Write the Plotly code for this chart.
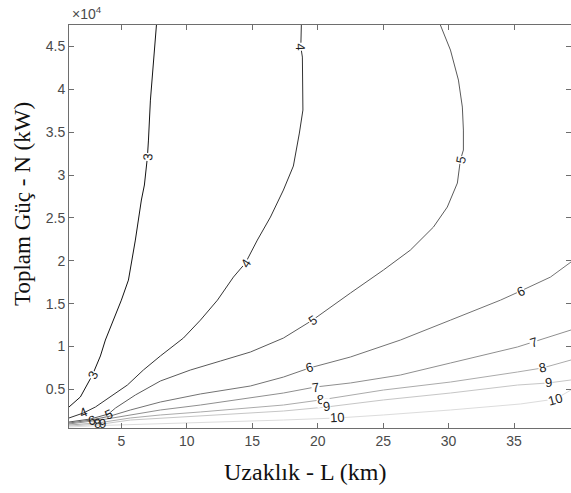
import math
import plotly.graph_objects as go

# ---- contour levels and traced contour lines (L in km, N in kW) ----
levels = [3, 4, 5, 6, 7, 8, 9, 10]

L3_x = [7.68, 7.45, 7.22, 7.07, 6.99, 6.76, 6.53, 6.07, 5.54, 5.00, 4.39, 3.78, 3.40, 2.79, 1.87, 1.0]
L3_y = [47500, 43410, 38740, 34080, 32100, 28840, 27090, 22420, 17750, 15410, 13080, 10760, 8900, 6680, 4120, 2950]

L4_x = [18.75, 18.71, 18.83, 18.89, 18.87, 18.60, 18.14, 17.38, 16.39, 15.39, 14.48, 13.56, 12.34, 11.04,
        9.74, 7.98, 6.68, 5.46, 4.16, 3.02, 2.10, 1.0]
L4_y = [47500, 44930, 43760, 39910, 37580, 34900, 31050, 28250, 25100, 22420, 19740, 18100, 15410, 13080,
        10990, 8900, 7260, 5510, 4120, 2950, 2250, 1670]

L5_x = [29.37, 30.14, 30.75, 31.05, 31.13, 31.13, 30.90, 30.67, 29.90, 28.84, 27.08, 25.02, 22.50, 20.97,
        19.60, 17.38, 14.86, 12.57, 10.27, 7.98, 6.07, 4.55, 4.01, 2.64, 1.0]
L5_y = [47500, 44580, 41080, 37930, 35250, 32920, 31750, 29070, 26270, 23930, 21250, 18920, 16240, 14600,
        13080, 10990, 9360, 8310, 7260, 5980, 4350, 2830, 2130, 1550, 1200]

L6_x = [39.35, 37.78, 35.49, 33.96, 30.14, 26.32, 22.50, 19.37, 17.38, 14.86, 11.04, 7.98, 5.69, 4.16, 2.71, 1.0]
L6_y = [19860, 18100, 16470, 15410, 13080, 10760, 8780, 7500, 6440, 5400, 4470, 3530, 2600, 1900, 1430, 1080]

L7_x = [39.35, 36.48, 35.26, 30.14, 26.32, 22.50, 19.82, 17.38, 14.86, 11.04, 7.98, 5.69, 3.40, 1.0]
L7_y = [11930, 10530, 9950, 8080, 6680, 5750, 5280, 4580, 4000, 3180, 2600, 2020, 1430, 970]

L8_x = [39.35, 37.17, 35.26, 30.14, 25.02, 20.21, 17.38, 14.86, 11.04, 7.98, 5.69, 3.17, 1.0]
L8_y = [8430, 7500, 7030, 5860, 4930, 3770, 3180, 2830, 2370, 2020, 1670, 1080, 850]

L9_x = [39.35, 37.62, 35.26, 30.14, 25.02, 20.67, 17.38, 14.86, 11.04, 7.98, 5.69, 3.55, 1.0]
L9_y = [6100, 5750, 5510, 4580, 3770, 2950, 2480, 2250, 1900, 1670, 1430, 970, 730]

L10_x = [39.35, 38.16, 35.49, 30.14, 25.02, 21.50, 17.38, 14.86, 11.04, 7.98, 5.69, 3.40, 1.0]
L10_y = [4930, 3880, 3300, 2600, 2020, 1670, 1430, 1320, 1140, 1030, 910, 790, 620]

lines_x = [L3_x, L4_x, L5_x, L6_x, L7_x, L8_x, L9_x, L10_x]
lines_y = [L3_y, L4_y, L5_y, L6_y, L7_y, L8_y, L9_y, L10_y]

# label positions: index of the point on each line where the level label sits
label_idx = [[4, 13], [1, 10, 20], [6, 14, 22], [2, 7, 14], [1, 6], [1, 5, 11], [1, 5, 11], [1, 5]]

x_ticks = [5, 10, 15, 20, 25, 30, 35]
y_ticks = [5000, 10000, 15000, 20000, 25000, 30000, 35000, 40000, 45000]
y_tick_text = ["0.5", "1", "1.5", "2", "2.5", "3", "3.5", "4", "4.5"]

x_title = "Uzaklık - L (km)"
y_title = "Toplam Güç - N (kW)"

# ---- styling ----
W, H = 571, 493
ML, MR, MT, MB = 69, 0, 25, 65
X_RANGE = [1, 39.35]
Y_RANGE = [500, 47500]
line_colors = ["#141414", "#333333", "#5a5a5a", "#737373", "#8f8f8f", "#ababab", "#c6c6c6", "#dcdcdc"]

fig = go.Figure()
for lev, xs, ys, col in zip(levels, lines_x, lines_y, line_colors):
    fig.add_trace(go.Scatter(x=xs, y=ys, mode="lines", line=dict(color=col, width=1),
                             name=str(lev), showlegend=False, hoverinfo="skip"))

pw = W - ML - MR
ph = H - MT - MB
sx = pw / (X_RANGE[1] - X_RANGE[0])
sy = ph / (Y_RANGE[1] - Y_RANGE[0])

annotations = []
for lev, xs, ys, idxs in zip(levels, lines_x, lines_y, label_idx):
    for i in idxs:
        a = max(i - 1, 0)
        b = min(i + 1, len(xs) - 1)
        dx = (xs[b] - xs[a]) * sx
        dy = -(ys[b] - ys[a]) * sy
        ang = math.degrees(math.atan2(dy, dx))
        if ang > 90:
            ang -= 180
        elif ang < -90:
            ang += 180
        low = ys[i] < 2600 and xs[i] < 6
        annotations.append(dict(
            x=xs[i], y=ys[i], xref="x", yref="y", text=str(lev), showarrow=False,
            textangle=ang, xanchor="center", yanchor="middle",
            font=dict(family="Liberation Sans, Arial", size=13, color="#1e1e1e"),
            bgcolor="rgba(0,0,0,0)" if low else "white", borderpad=0))

annotations.append(dict(x=0, y=1, xref="paper", yref="paper", xanchor="left", yanchor="bottom",
                        yshift=1, xshift=1, text="×10<sup>4</sup>", showarrow=False,
                        font=dict(family="Liberation Sans, Arial", size=14, color="#4a4a4a")))
annotations.append(dict(x=(305 - ML) / pw, y=-(472 - (H - MB)) / ph, xref="paper", yref="paper",
                        xanchor="center", yanchor="middle", text=x_title, showarrow=False,
                        font=dict(family="Liberation Serif, Times New Roman, serif", size=24, color="#111111")))
annotations.append(dict(x=-(ML - 22) / pw, y=1 - (204 - MT) / ph, xref="paper", yref="paper",
                        xanchor="center", yanchor="middle", text=y_title, textangle=-90, showarrow=False,
                        font=dict(family="Liberation Serif, Times New Roman, serif", size=23, color="#111111")))

axis_common = dict(showgrid=False, zeroline=False, showline=True, linecolor="#6e6e6e", linewidth=1,
                   mirror="ticks", ticks="inside", ticklen=5, tickcolor="#6e6e6e", tickwidth=1,
                   automargin=False,
                   tickfont=dict(family="Liberation Sans, Arial", size=14, color="#4a4a4a"))

fig.update_layout(
    template="none",
    width=W, height=H, autosize=False,
    margin=dict(l=ML, r=MR, t=MT, b=MB, autoexpand=False),
    paper_bgcolor="white", plot_bgcolor="white",
    xaxis=dict(range=X_RANGE, tickvals=x_ticks, ticktext=[str(v) for v in x_ticks], **axis_common),
    yaxis=dict(range=Y_RANGE, tickvals=y_ticks, ticktext=y_tick_text, **axis_common),
    annotations=annotations,
)

fig.write_html("out.html", config={"displayModeBar": False},
               post_script="document.body.style.margin='0';document.body.style.overflow='hidden';")
